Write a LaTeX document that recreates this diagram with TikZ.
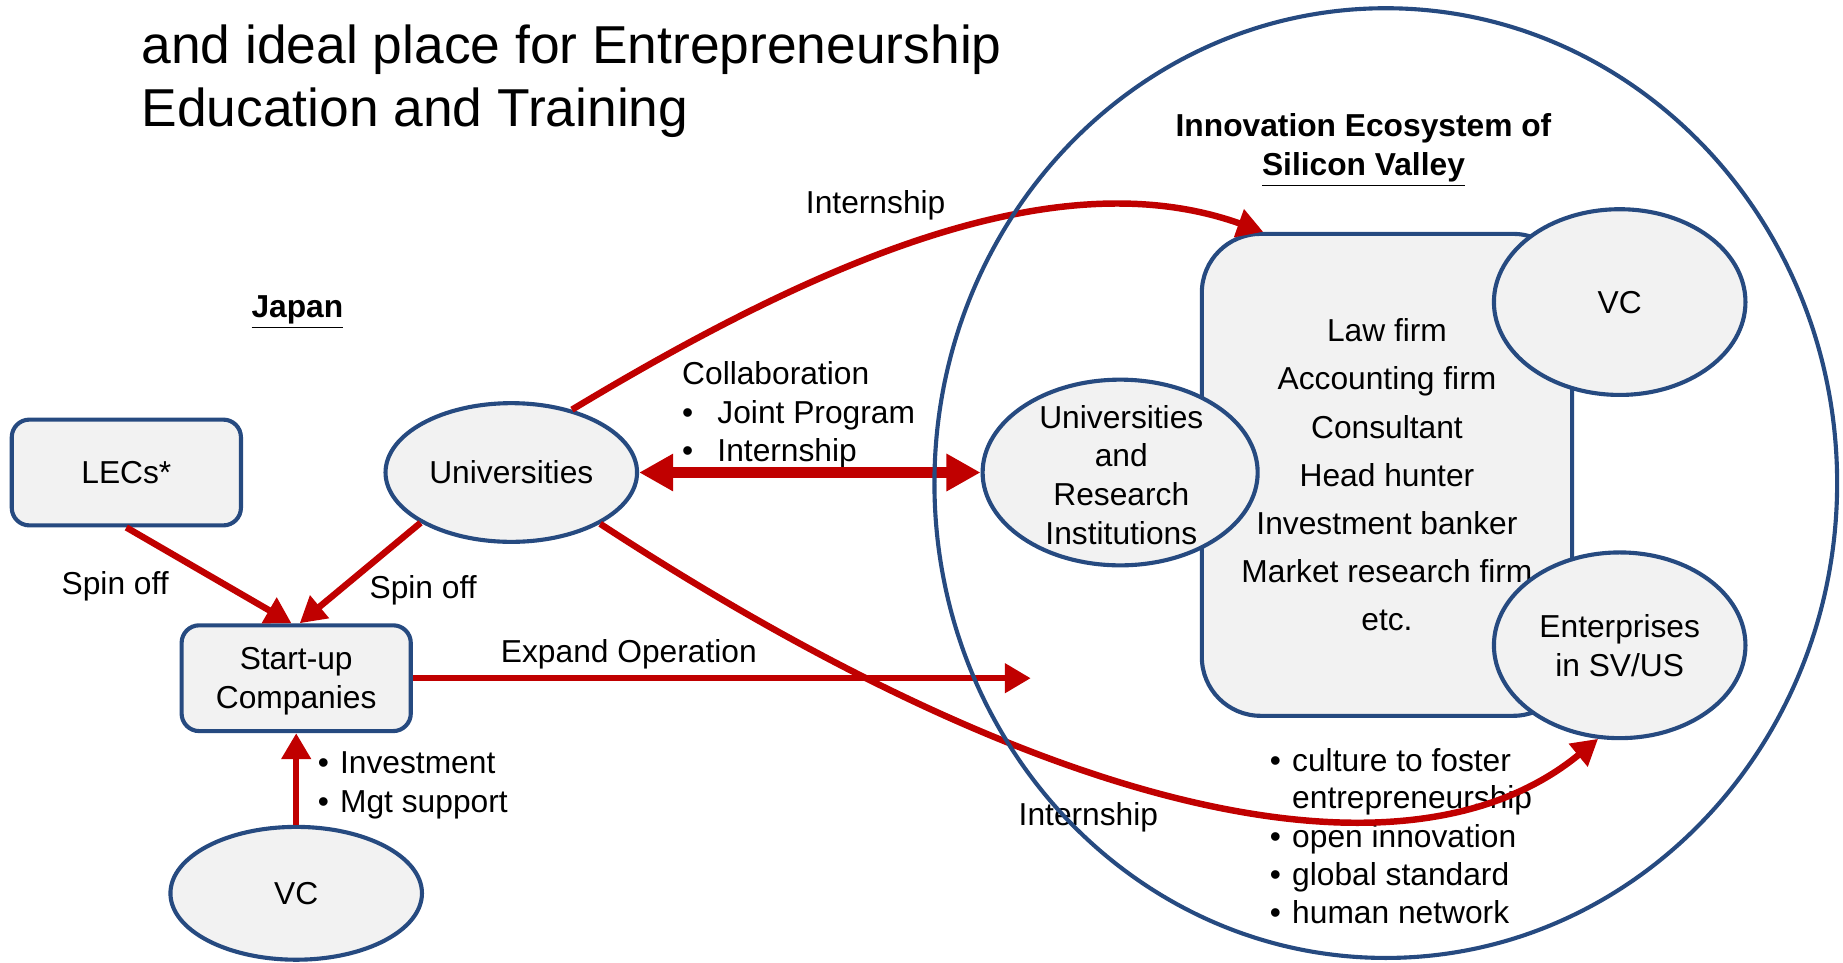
\documentclass[tikz,border=0pt]{standalone}
\usepackage{fontspec}
\setmainfont{Liberation Sans}
\usepackage{xcolor}
\usetikzlibrary{shapes.geometric,arrows.meta}
\definecolor{boxline}{RGB}{38,74,128}
\definecolor{boxfill}{RGB}{242,242,242}
\definecolor{arrowred}{RGB}{192,0,0}

\begin{document}
\begin{tikzpicture}[x=0.5pt,y=-0.5pt,
    every node/.style={font=\fontsize{13.5}{16.5}\selectfont},
    box/.style={draw=boxline,fill=boxfill,line width=1.75pt,rounded corners=7.5pt,
        minimum width=97.5pt,minimum height=45pt,align=center,inner sep=0pt},
    blob/.style={ellipse,draw=boxline,fill=boxfill,line width=1.75pt,inner sep=0pt,align=center},
    link/.style={draw=arrowred,line width=2.75pt,-{Triangle[length=11pt,width=12pt]}},
    wide/.style={draw=arrowred,line width=5pt,
        {Triangle[length=14.5pt,width=15pt]}-{Triangle[length=14.5pt,width=15pt]}},
    listitem/.style={anchor=west,inner sep=0pt,text height=9.8pt,text depth=2.8pt}]
    \useasboundingbox (0,0) rectangle (1568,819);

    \node[anchor=west,align=left,inner sep=0pt,font=\fontsize{22.7}{27}\selectfont] (title) at (120,69)
        {and ideal place for Entrepreneurship\\Education and Training};

    \node (japan) at (253,266) {\textbf{\underline{Japan}}};
    \node[align=center,font=\fontsize{13.5}{16.5}\selectfont\bfseries] (ecotitle) at (1160,128)
        {Innovation Ecosystem of\\\underline{Silicon Valley}};

    \node[box] (lecs) at (107.5,402) {LECs*};
    \node[box,text depth=-2pt] (startup) at (252,577) {Start-up\\Companies};
    \node[blob,minimum width=107pt,minimum height=59pt] (uni) at (435,402) {Universities};
    \node[blob,minimum width=107pt,minimum height=56.5pt] (vcjp) at (252,760) {VC};

    \node[box,minimum width=157.5pt,minimum height=205pt,rounded corners=25pt,
        font=\fontsize{13.5}{20.5}\selectfont] (svbox) at (1180,404)
        {Law firm\\Accounting firm\\Consultant\\Head hunter\\Investment banker\\Market research firm\\etc.};
    \node[blob,minimum width=117pt,minimum height=79pt] (uri) at (953,402) {};
    \node[align=center] (uritext) at (954,404) {Universities\\and\\Research\\Institutions};
    \node[blob,minimum width=107pt,minimum height=79pt] (vcsv) at (1378,257) {VC};
    \node[blob,minimum width=107pt,minimum height=79pt] (ent) at (1378,549) {Enterprises\\in SV/US};

    \node (spinleft) at (98,499) {Spin off};
    \node (spinright) at (360,502) {Spin off};
    \node (expandlabel) at (535,557) {Expand Operation};
    \node (interntop) at (745,175) {Internship};
    \node (internbottom) at (926,695) {Internship};
    \node[anchor=west,align=left,inner sep=0pt] (collab) at (580,353)
        {Collaboration\\\makebox[15pt][l]{\textbullet}Joint Program\\\makebox[15pt][l]{\textbullet}Internship};
    \node[anchor=west,align=left,inner sep=0pt] (support) at (270,668)
        {\makebox[9.5pt][l]{\textbullet}Investment\\\makebox[9.5pt][l]{\textbullet}Mgt support};

    \foreach \y/\txt in {649/culture to foster,714/open innovation,746/global standard,779/human network} {
        \node[listitem] (dot-\y) at (1080,\y) {\textbullet};
        \node[listitem] (trait-\y) at (1099,\y) {\txt};
    }
    \node[listitem] (trait-681) at (1099,681) {entrepreneurship};

    \coordinate (expandend) at (877,577);
    \draw[link] (lecs.south) -- ([xshift=-2pt]startup.north);
    \draw[link] (uni.209) -- ([xshift=1.5pt]startup.north);
    \draw[link] (vcjp.north) -- (startup.south);
    \draw[link] (startup.east) -- (expandend);
    \draw[wide] (uni.east) -- (uri.west);
    \draw[link] (uni.46) .. controls (700,220) and (900,135) .. ([xshift=27pt]svbox.north west);
    \draw[link] (uni.-30) .. controls (900,700) and (1200,760) .. (ent.-103);

    \node[blob,fill=none,minimum width=384pt,minimum height=404pt] (eco) at (1179,411) {};
\end{tikzpicture}
\end{document}
